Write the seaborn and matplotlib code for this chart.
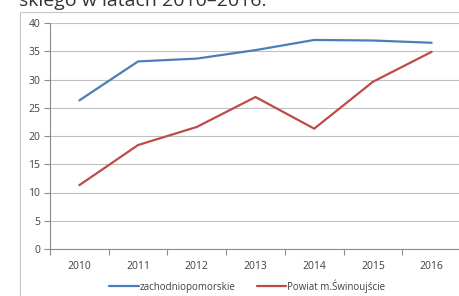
import pandas as pd
import seaborn as sns
import matplotlib.pyplot as plt
from matplotlib.patches import Rectangle

years = [2010, 2011, 2012, 2013, 2014, 2015, 2016]
zachodniopomorskie = [26.3, 33.2, 33.7, 35.2, 37.0, 36.9, 36.5]
swinoujscie = [11.3, 18.4, 21.6, 26.9, 21.3, 29.6, 34.9]
series_names = ['zachodniopomorskie', 'Powiat m.Świnoujście']

data = pd.DataFrame({
    'rok': [str(y) for y in years] * 2,
    'wartosc': zachodniopomorskie + swinoujscie,
    'seria': [series_names[0]] * len(years) + [series_names[1]] * len(years),
})

sns.set_style('white')
plt.rcParams['font.family'] = ['Open Sans', 'DejaVu Sans']

fig = plt.figure(figsize=(4.6, 2.96), dpi=100)
ax = fig.add_axes([50 / 460, 47 / 296, 411 / 460, 226 / 296])

sns.lineplot(data=data, x='rok', y='wartosc', hue='seria', sort=False,
             palette=['#4a7ebb', '#be4b48'], linewidth=1.6, ax=ax)

ax.set_xlim(-0.5, 6.5)
ax.set_ylim(0, 40)
ax.set_yticks(range(0, 41, 5))
ax.set_xlabel('')
ax.set_ylabel('')
ax.yaxis.grid(True, color='#c0c0c0', linewidth=0.8)
ax.set_axisbelow(True)
for s in ['top', 'right']:
    ax.spines[s].set_visible(False)
ax.spines['left'].set_color('#8c8c8c')
ax.spines['bottom'].set_color('#8c8c8c')
ax.spines['left'].set_linewidth(0.8)
ax.spines['bottom'].set_linewidth(0.8)

ax.tick_params(axis='y', left=True, length=4, width=0.8, color='#8c8c8c',
               labelsize=7.5, labelcolor='#404040', pad=3)
ax.tick_params(axis='x', bottom=False, labelsize=7.5, labelcolor='#404040', pad=5)
# Excel-style tick marks between categories
ax.set_xticks([i + 0.5 for i in range(-1, 7)], minor=True)
ax.tick_params(axis='x', which='minor', bottom=True, length=4, width=0.8,
               color='#8c8c8c')

ax.legend(loc='upper center', bbox_to_anchor=(0.48, -0.095), ncol=2, frameon=False,
          fontsize=7, handlelength=3.0, handletextpad=0.1, columnspacing=2.2,
          labelcolor='#404040')

fig.add_artist(Rectangle((20 / 460, -0.1), 1.0, 1.1 - 12 / 296,
                         transform=fig.transFigure, fill=False,
                         edgecolor='#c8c8c8', linewidth=0.8))
fig.text(19 / 460, 1 - 6 / 296, 'skiego w latach 2010–2016.', fontsize=14,
         color='#333333', va='baseline', ha='left')

fig.savefig('out.png', dpi=100)
